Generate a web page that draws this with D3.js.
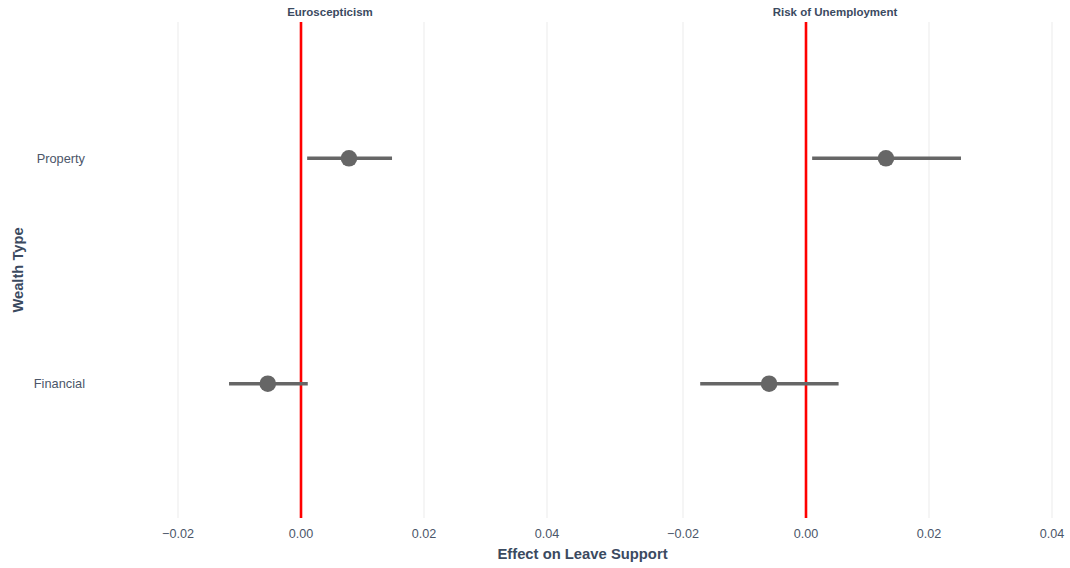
<!DOCTYPE html>
<html>
<head>
<meta charset="utf-8">
<script src="https://cdn.jsdelivr.net/npm/d3@7"></script>
<style>
  body { margin: 0; background: #fff; }
  svg { display: block; font-family: "Liberation Sans", Arial, Helvetica, sans-serif; }
</style>
</head>
<body>
<svg id="chart" width="1070" height="568"></svg>
<script>
// Facets and wealth categories
const facets = ["Euroscepticism", "Risk of Unemployment"];
const wealthTypes = ["Property", "Financial"];

// Point estimates and 95% intervals, one array per facet (order follows wealthTypes)
const euroEstimate = [0.0078, -0.0054];
const euroLower    = [0.0010, -0.0117];
const euroUpper    = [0.0148, 0.0011];

const unempEstimate = [0.0130, -0.0060];
const unempLower    = [0.0010, -0.0172];
const unempUpper    = [0.0252, 0.0053];

const xTicks = [-0.02, 0, 0.02, 0.04];

const facetData = [
  { title: facets[0], est: euroEstimate, lo: euroLower, hi: euroUpper },
  { title: facets[1], est: unempEstimate, lo: unempLower, hi: unempUpper }
];

const svg = d3.select("#chart");
const W = 1070, H = 568;
const margin = { top: 22, right: 5, bottom: 50, left: 100 };
const gap = 45;
const panelW = (W - margin.left - margin.right - gap) / 2;
const panelH = H - margin.top - margin.bottom;

const x = d3.scaleLinear().domain([-0.03268, 0.04211]).range([0, panelW]);
const y = d3.scalePoint().domain(wealthTypes).range([1, panelH + 1]).padding(0.6);

const textColor = "#3b4a5f";
const tickColor = "#4b5669";
const fmt = d3.format(".2f");

facetData.forEach((f, i) => {
  const g = svg.append("g")
    .attr("transform", `translate(${margin.left + i * (panelW + gap)},${margin.top})`);

  // vertical gridlines
  g.selectAll("line.grid").data(xTicks).join("line")
    .attr("class", "grid")
    .attr("x1", d => x(d)).attr("x2", d => x(d))
    .attr("y1", 0).attr("y2", panelH)
    .attr("stroke", "#ebebeb").attr("stroke-width", 1);

  // x tick labels
  g.selectAll("text.tick").data(xTicks).join("text")
    .attr("class", "tick")
    .attr("x", d => x(d)).attr("y", panelH + 20)
    .attr("text-anchor", "middle")
    .attr("font-size", 12.6)
    .attr("fill", tickColor)
    .text(d => fmt(d));

  // facet title
  g.append("text")
    .attr("x", panelW / 2).attr("y", -6)
    .attr("text-anchor", "middle")
    .attr("font-size", 11.5)
    .attr("font-weight", "bold")
    .attr("fill", textColor)
    .text(f.title);

  // reference line at zero
  g.append("line")
    .attr("x1", x(0)).attr("x2", x(0))
    .attr("y1", 0).attr("y2", panelH)
    .attr("stroke", "#ff0000").attr("stroke-width", 2.6);

  // interval bars
  g.selectAll("line.ci").data(wealthTypes).join("line")
    .attr("class", "ci")
    .attr("x1", (d, j) => x(f.lo[j])).attr("x2", (d, j) => x(f.hi[j]))
    .attr("y1", d => y(d)).attr("y2", d => y(d))
    .attr("stroke", "#666666").attr("stroke-width", 3.6);

  // point estimates
  g.selectAll("circle.pt").data(wealthTypes).join("circle")
    .attr("class", "pt")
    .attr("cx", (d, j) => x(f.est[j])).attr("cy", d => y(d))
    .attr("r", 8.3)
    .attr("fill", "#666666");

  // category labels on the first panel only
  if (i === 0) {
    g.selectAll("text.cat").data(wealthTypes).join("text")
      .attr("class", "cat")
      .attr("x", -15).attr("y", d => y(d))
      .attr("dy", "0.35em")
      .attr("text-anchor", "end")
      .attr("font-size", 12.8)
      .attr("fill", tickColor)
      .text(d => d);
  }
});

// axis titles
svg.append("text")
  .attr("x", margin.left + (W - margin.left - margin.right) / 2)
  .attr("y", H - 9)
  .attr("text-anchor", "middle")
  .attr("font-size", 14.8)
  .attr("font-weight", "bold")
  .attr("fill", textColor)
  .text("Effect on Leave Support");

svg.append("text")
  .attr("transform", `translate(23,${margin.top + panelH / 2}) rotate(-90)`)
  .attr("text-anchor", "middle")
  .attr("font-size", 14.7)
  .attr("font-weight", "bold")
  .attr("fill", textColor)
  .text("Wealth Type");
</script>
</body>
</html>
